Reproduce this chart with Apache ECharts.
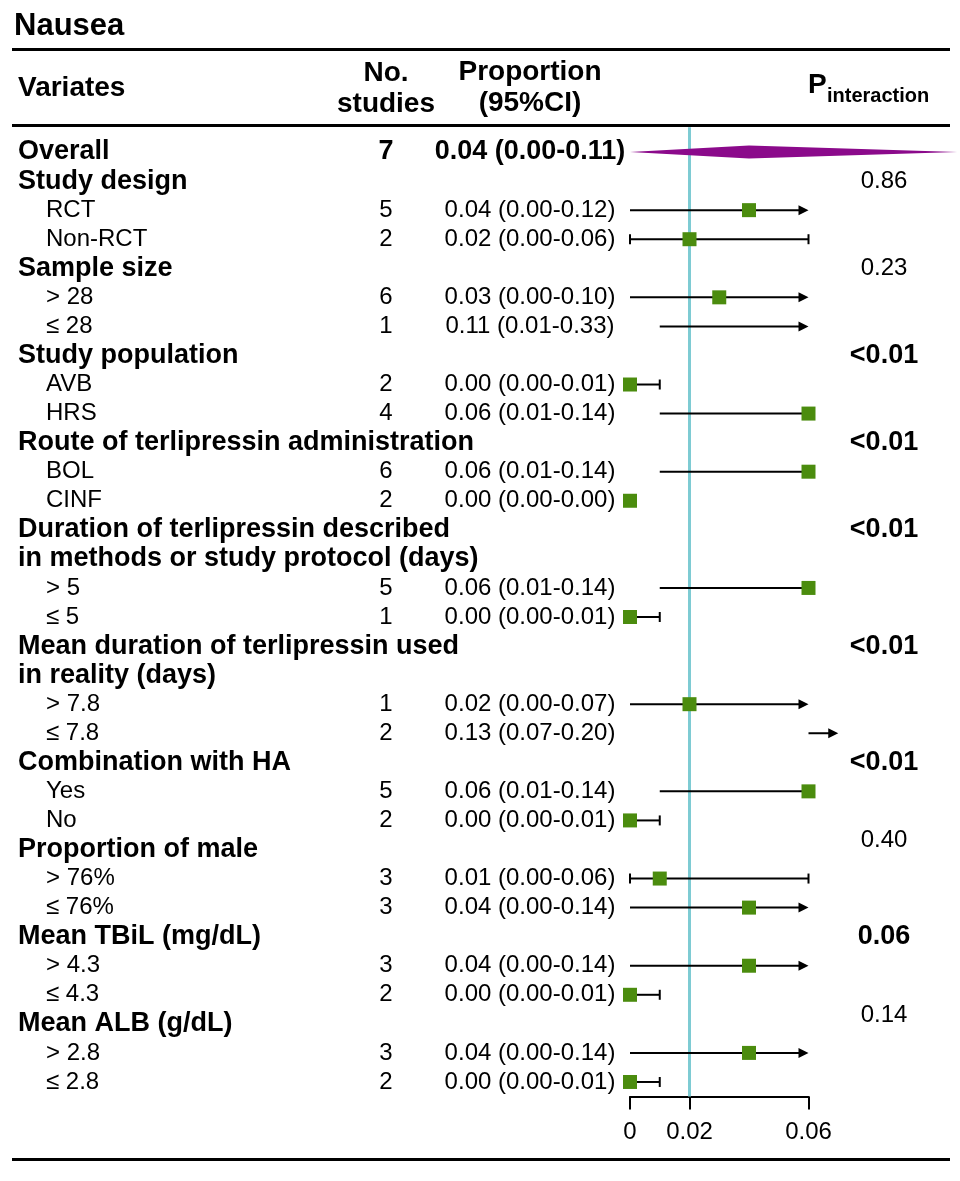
<!DOCTYPE html>
<html>
<head>
<meta charset="utf-8">
<script src="https://cdn.jsdelivr.net/npm/echarts@6/dist/echarts.min.js"></script>
<style>
html,body{margin:0;padding:0;background:#fff;}
#chart{width:960px;height:1181px;}
</style>
</head>
<body>
<div id="chart"></div>
<script>
// ---------------- data ----------------
const labels = ['Overall','Study design','RCT','Non-RCT','Sample size','> 28','\u2264 28','Study population','AVB','HRS',
  'Route of terlipressin administration','BOL','CINF','Duration of terlipressin described','in methods or study protocol (days)',
  '> 5','\u2264 5','Mean duration of terlipressin used','in reality (days)','> 7.8','\u2264 7.8','Combination with HA','Yes','No',
  'Proportion of male','> 76%','\u2264 76%','Mean TBiL (mg/dL)','> 4.3','\u2264 4.3','Mean ALB (g/dL)','> 2.8','\u2264 2.8'];
// 0 = overall, 1 = group header, 2 = subgroup
const levels = [0,1,2,2,1,2,2,1,2,2,1,2,2,1,1,2,2,1,1,2,2,1,2,2,1,2,2,1,2,2,1,2,2];
const studies = [7,null,5,2,null,6,1,null,2,4,null,6,2,null,null,5,1,null,null,1,2,null,5,2,null,3,3,null,3,2,null,3,2];
const est = [0.04,null,0.04,0.02,null,0.03,0.11,null,0.00,0.06,null,0.06,0.00,null,null,0.06,0.00,null,null,0.02,0.13,null,0.06,0.00,null,0.01,0.04,null,0.04,0.00,null,0.04,0.00];
const lo  = [0.00,null,0.00,0.00,null,0.00,0.01,null,0.00,0.01,null,0.01,0.00,null,null,0.01,0.00,null,null,0.00,0.07,null,0.01,0.00,null,0.00,0.00,null,0.00,0.00,null,0.00,0.00];
const hi  = [0.11,null,0.12,0.06,null,0.10,0.33,null,0.01,0.14,null,0.14,0.00,null,null,0.14,0.01,null,null,0.07,0.20,null,0.14,0.01,null,0.06,0.14,null,0.14,0.01,null,0.14,0.01];
const pLabels = ['0.86','0.23','<0.01','<0.01','<0.01','<0.01','<0.01','0.40','0.06','0.14'];
const pBold   = [false,false,true,true,true,true,true,false,true,false];
const pRows   = [1,4,7,10,13,17,21,23.7,27,29.7];
const xTicks = [0, 0.02, 0.06];
const refValue = 0.02;
const xMin = 0, xMax = 0.06;

// ---------------- chart ----------------
const FONT = "'Liberation Sans', Arial, Helvetica, sans-serif";
const chart = echarts.init(document.getElementById('chart'));
const GREEN = '#4b8c0e', PURPLE = '#8b0a8b', CYAN = '#7ecbd3';
const AL = 10, AH = 5; // arrow head length / half height

function rowItem(params, api) {
  const i = api.value(1);
  const lvl = levels[i];
  const y = api.coord([0, i])[1];
  const children = [];
  const labelFont = lvl === 2 ? '24px ' + FONT : 'bold 27px ' + FONT;
  children.push({type: 'text', x: lvl === 2 ? 46 : 18, y: y,
    style: {text: labels[i], font: labelFont, fill: '#000', textAlign: 'left', textVerticalAlign: 'middle'}});
  if (studies[i] != null) {
    children.push({type: 'text', x: 386, y: y,
      style: {text: String(studies[i]), font: (lvl === 0 ? 'bold 27px ' : '24px ') + FONT, fill: '#000', textAlign: 'center', textVerticalAlign: 'middle'}});
  }
  if (est[i] != null) {
    const txt = est[i].toFixed(2) + ' (' + lo[i].toFixed(2) + '-' + hi[i].toFixed(2) + ')';
    children.push({type: 'text', x: 530, y: y,
      style: {text: txt, font: (lvl === 0 ? 'bold 27px ' : '24px ') + FONT, fill: '#000', textAlign: 'center', textVerticalAlign: 'middle'}});
    if (lvl === 0) {
      const pl = api.coord([lo[i], i]), pc = api.coord([est[i], i]), ph = api.coord([hi[i], i]);
      const hh = 6.5;
      children.push({type: 'polygon', shape: {points: [[pl[0], y], [pc[0], y - hh], [ph[0], y], [pc[0], y + hh]]},
        style: {fill: PURPLE, stroke: null}});
    } else {
      const ls = {stroke: '#000', lineWidth: 2};
      const xmaxPx = api.coord([xMax, i])[0];
      const arrow = (xt) => ({type: 'polygon', shape: {points: [[xt, y], [xt - AL, y - AH], [xt - AL, y + AH]]}, style: {fill: '#000'}});
      if (lo[i] >= xMax) {
        const x2 = api.coord([lo[i], i])[0];
        children.push({type: 'line', shape: {x1: xmaxPx, y1: y, x2: x2 - 6, y2: y}, style: ls});
        children.push(arrow(x2));
      } else if (hi[i] > xMax) {
        const x1 = api.coord([lo[i], i])[0];
        if (Math.abs(est[i] - xMax) > 1e-9) {
          children.push({type: 'line', shape: {x1: x1, y1: y, x2: xmaxPx - 6, y2: y}, style: ls});
          children.push(arrow(xmaxPx));
        } else {
          children.push({type: 'line', shape: {x1: x1, y1: y, x2: xmaxPx, y2: y}, style: ls});
        }
      } else if (hi[i] > lo[i]) {
        const x1 = api.coord([lo[i], i])[0], x2 = api.coord([hi[i], i])[0];
        children.push({type: 'line', shape: {x1: x1, y1: y, x2: x2, y2: y}, style: ls});
        children.push({type: 'line', shape: {x1: x1, y1: y - 5, x2: x1, y2: y + 5}, style: ls});
        children.push({type: 'line', shape: {x1: x2, y1: y - 5, x2: x2, y2: y + 5}, style: ls});
      }
      if (est[i] <= xMax) {
        const pc = api.coord([est[i], i]);
        children.push({type: 'rect', shape: {x: pc[0] - 7, y: y - 7, width: 14, height: 14}, style: {fill: GREEN}});
      }
    }
  }
  return {type: 'group', children: children};
}

function pItem(params, api) {
  const k = params.dataIndex;
  const y = api.coord([0, api.value(1)])[1];
  return {type: 'text', x: 884, y: y,
    style: {text: pLabels[k], font: (pBold[k] ? 'bold 27px ' : '24px ') + FONT, fill: '#000', textAlign: 'center', textVerticalAlign: 'middle'}};
}

function refItem(params, api) {
  const top = api.coord([refValue, -0.85]);
  const bot = api.coord([refValue, 32.5]);
  return {type: 'line', shape: {x1: top[0], y1: top[1], x2: bot[0], y2: bot[1]}, style: {stroke: CYAN, lineWidth: 3}};
}

const rule = (y) => ({type: 'rect', left: 12, top: y, shape: {width: 938, height: 3}, style: {fill: '#000'}});
const txt = (x, y, text, font, align) => ({type: 'text', x: x, y: y,
  style: {text: text, font: font, fill: '#000', textAlign: align || 'left', textVerticalAlign: 'middle'}});

const option = {
  animation: false,
  backgroundColor: '#fff',
  grid: {left: 630, width: 178.5, top: 137.5, height: 959},
  xAxis: {
    type: 'value', min: xMin, max: xMax,
    splitLine: {show: false},
    axisLine: {show: true, onZero: false, lineStyle: {color: '#000', width: 2}},
    axisTick: {show: true, inside: false, length: 13, customValues: xTicks, lineStyle: {color: '#000', width: 2}},
    axisLabel: {show: true, margin: 24, customValues: xTicks, color: '#000', fontSize: 24, fontFamily: FONT,
      formatter: (v) => v === 0 ? '0' : v.toFixed(2)}
  },
  yAxis: {type: 'value', inverse: true, min: -0.5, max: 32.5, show: false},
  graphic: [
    txt(14, 26, 'Nausea', 'bold 31px ' + FONT),
    rule(48),
    txt(18, 88, 'Variates', 'bold 28px ' + FONT),
    txt(386, 73, 'No.', 'bold 28px ' + FONT, 'center'),
    txt(386, 104, 'studies', 'bold 28px ' + FONT, 'center'),
    txt(530, 72, 'Proportion', 'bold 28px ' + FONT, 'center'),
    txt(530, 103, '(95%CI)', 'bold 28px ' + FONT, 'center'),
    txt(808, 85, 'P', 'bold 28px ' + FONT),
    txt(827, 96, 'interaction', 'bold 20px ' + FONT),
    rule(124),
    rule(1158)
  ],
  series: [
    {type: 'custom', name: 'ref', renderItem: refItem, clip: false, data: [[refValue, 0]], z: 1},
    {type: 'custom', name: 'rows', renderItem: rowItem, clip: false, data: labels.map((_, i) => [0, i]), z: 2},
    {type: 'custom', name: 'p', renderItem: pItem, clip: false, data: pRows.map(r => [0, r]), z: 2}
  ]
};
chart.setOption(option);
</script>
</body>
</html>
